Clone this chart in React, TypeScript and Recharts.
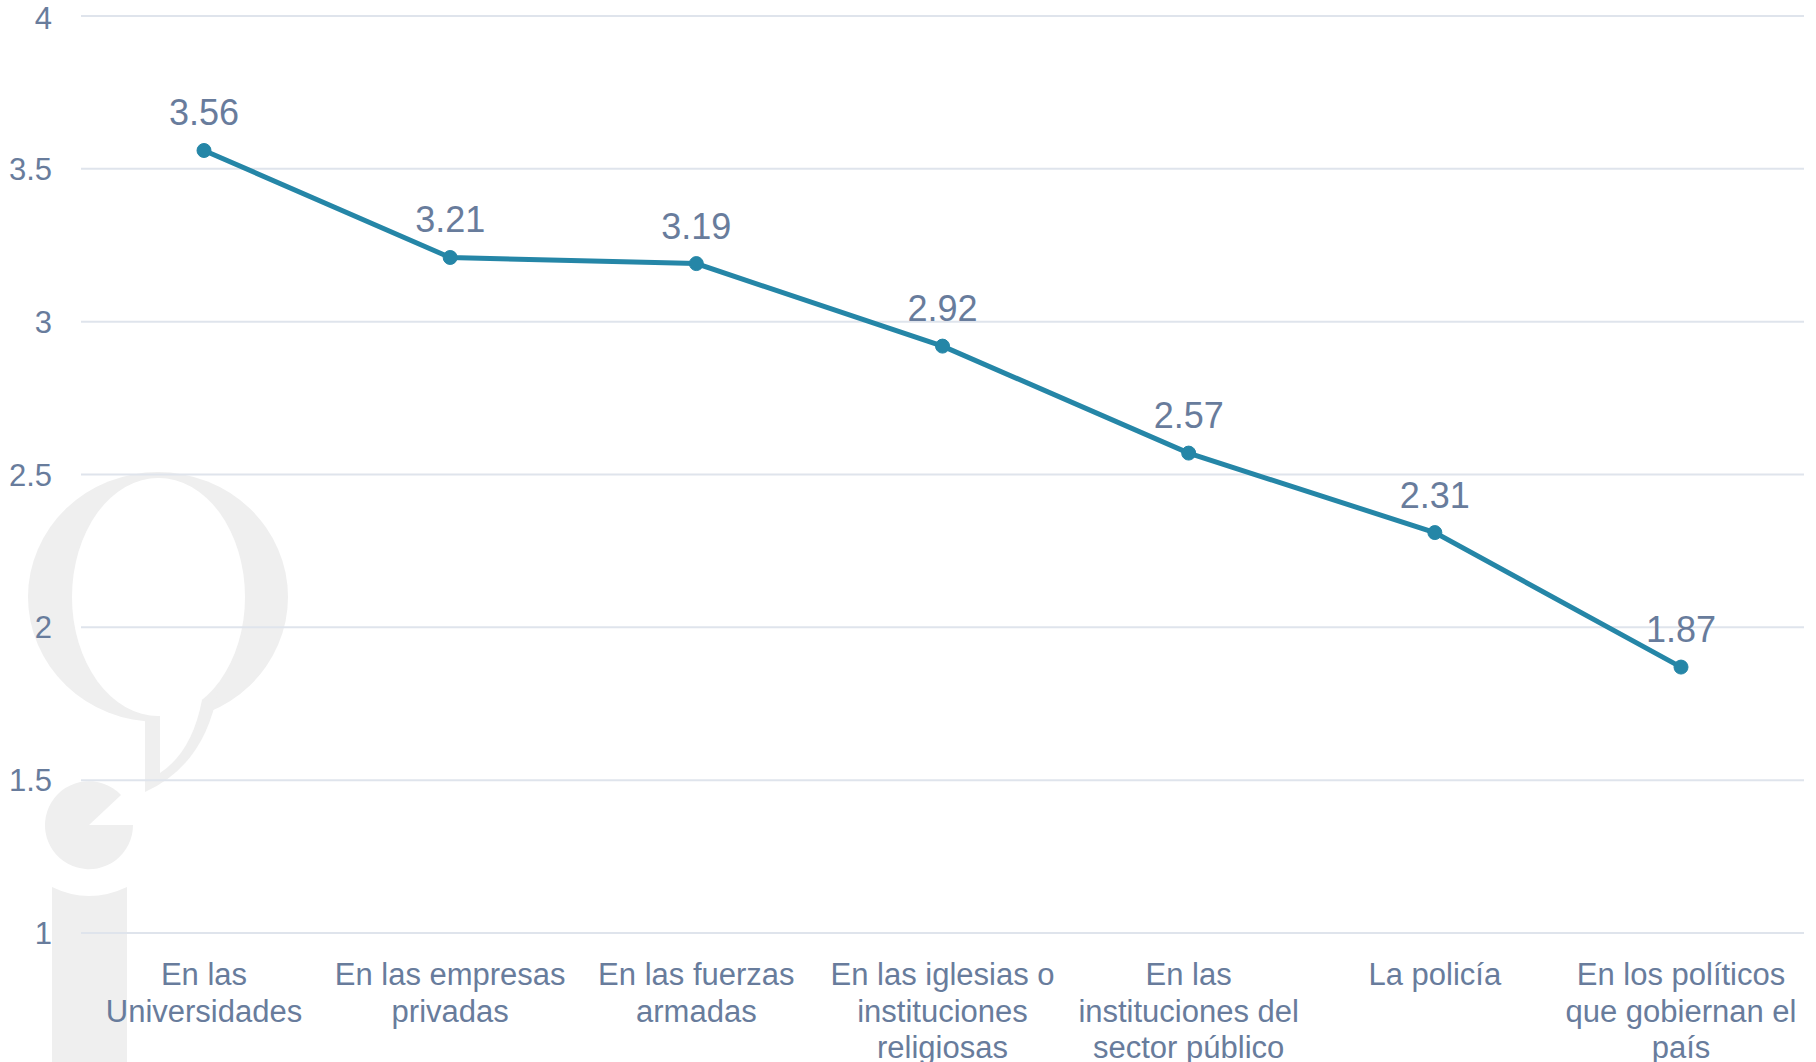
import { LineChart, Line, XAxis, YAxis, CartesianGrid, LabelList } from "recharts";

const categories = [
  "En las\nUniversidades",
  "En las empresas\nprivadas",
  "En las fuerzas\narmadas",
  "En las iglesias o\ninstituciones\nreligiosas",
  "En las\ninstituciones del\nsector público",
  "La policía",
  "En los políticos\nque gobiernan el\npaís",
];
const scores = [3.56, 3.21, 3.19, 2.92, 2.57, 2.31, 1.87];
const yTicks = [1, 1.5, 2, 2.5, 3, 3.5, 4];

const data = categories.map((name, i) => ({ name, value: scores[i] }));

const TEXT = "#687c9c";
const LINE = "#2586a7";
const FONT = "'Liberation Sans', Arial, sans-serif";
const MARK = "#efefef";

function CategoryTick({ x, y, payload }: any) {
  const lines = String(payload.value).split("\n");
  return (
    <text x={x} y={y} textAnchor="middle" fill={TEXT} fontSize={31} fontFamily={FONT}>
      {lines.map((l, i) => (
        <tspan key={i} x={x} dy={i === 0 ? 52 : 36.5}>
          {l}
        </tspan>
      ))}
    </text>
  );
}

// faint logo watermark behind the plot
function Watermark() {
  return (
    <svg width={320} height={1062} style={{ position: "absolute", left: 0, top: 0 }}>
      <ellipse cx={158} cy={597} rx={130} ry={125} fill={MARK} />
      <path d="M145 700 L145 792 Q205 765 218 690 Z" fill={MARK} />
      <ellipse cx={158.5} cy={597} rx={86.5} ry={119} fill="#fff" />
      <path d="M160 705 L160 773 Q192 752 202 700 Z" fill="#fff" />
      <path d="M89 825 L133 825 A44 44 0 1 1 121 795 Z" fill={MARK} />
      <path d="M52 887 Q89 905 127 887 L127 1062 L52 1062 Z" fill={MARK} />
    </svg>
  );
}

export default function App() {
  return (
    <div
      style={{
        position: "absolute",
        left: 0,
        top: 0,
        width: 1816,
        height: 1062,
        background: "#fff",
        overflow: "hidden",
      }}
    >
      <Watermark />
      <div style={{ position: "absolute", left: 0, top: 0 }}>
        <LineChart
          width={1816}
          height={1062}
          data={data}
          margin={{ top: 16, right: 12, bottom: 0, left: 0 }}
        >
          <CartesianGrid vertical={false} stroke="#dfe4ec" strokeWidth={2} />
          <XAxis
            dataKey="name"
            height={129}
            axisLine={false}
            tickLine={false}
            tickSize={0}
            tickMargin={0}
            padding={{ left: 123, right: 123 }}
            interval={0}
            tick={<CategoryTick />}
          />
          <YAxis
            width={81}
            domain={[1, 4]}
            ticks={yTicks}
            axisLine={false}
            tickLine={false}
            tickSize={0}
            tickMargin={29}
            tick={{ fill: TEXT, fontSize: 31, fontFamily: FONT }}
          />
          <Line
            dataKey="value"
            stroke={LINE}
            strokeWidth={5}
            dot={{ r: 7, fill: LINE, stroke: LINE, strokeWidth: 1 }}
            isAnimationActive={false}
          >
            <LabelList
              dataKey="value"
              position="top"
              offset={25}
              fill={TEXT}
              fontSize={36}
              fontFamily={FONT}
            />
          </Line>
        </LineChart>
      </div>
    </div>
  );
}
